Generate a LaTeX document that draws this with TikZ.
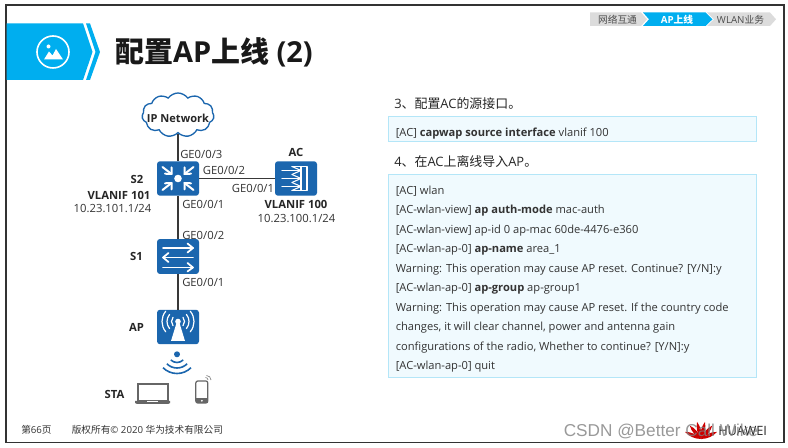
\documentclass[tikz,border=0pt]{standalone}
\usepackage{fontspec}
\setmainfont{Open Sans}
\newfontfamily\cjk{Noto Sans CJK SC}
\newfontfamily\wm{Liberation Sans}
\usetikzlibrary{shapes.symbols}
\definecolor{hwblue}{HTML}{00AEEF}
\definecolor{devblue}{HTML}{1B66AE}
\definecolor{boxfill}{HTML}{F0FAFE}
\definecolor{boxline}{HTML}{B4E6F8}
\definecolor{txt}{HTML}{333333}
\definecolor{tabgray}{HTML}{DCDCDC}
\tikzset{
 x=0.75pt,y=-0.75pt,
 dev/.style={fill=devblue,rounded corners=2.2pt,inner sep=0pt,minimum width=31.5pt,minimum height=25.8pt},
 glyph/.style={draw=white,line width=1.1pt,line cap=round,line join=round},
 link/.style={draw=black!78,line width=1pt},
 port/.style={font=\fontsize{8.45pt}{11pt}\selectfont,text=txt,inner sep=0pt,anchor=west},
 lab/.style={font=\fontsize{8.45pt}{11pt}\selectfont\bfseries,text=black!85,inner sep=0pt},
 addr/.style={font=\fontsize{8.45pt}{11pt}\selectfont,text=txt,inner sep=0pt},
 cfgbox/.style={draw=boxline,fill=boxfill,line width=0.7pt},
 cfg/.style={font=\fontsize{8.36pt}{10pt}\selectfont,text=txt,inner sep=0pt,anchor=west},
 head/.style={font=\fontsize{9.7pt}{11pt}\selectfont,text=black!85,inner sep=0pt,anchor=west},
 tab/.style={font=\fontsize{7.3pt}{8pt}\selectfont,inner sep=0pt},
 foot/.style={font=\fontsize{7.25pt}{9pt}\selectfont,text=txt,inner sep=0pt,anchor=west},
}
\begin{document}
\begin{tikzpicture}
\useasboundingbox (0,0) rectangle (788,448);
\fill[white] (0,0) rectangle (788,448);
\draw[black!80,line width=1.2pt] (6,5) rectangle (784,442.5);
% banner
\fill[hwblue] (6.6,23.5) -- (83,23.5) -- (92.5,52) -- (83,80) -- (6.6,80) -- cycle;
\fill[hwblue] (86,23.5) -- (90,23.5) -- (100,52) -- (90,80) -- (86,80) -- (95.5,52) -- cycle;
\draw[white,line width=1.2pt] (53,52) circle (16);
\fill[white] (44,59.5) -- (49,51.5) -- (52.5,55.5) -- (56,49) -- (63,59.5) -- cycle;
\fill[white] (48.5,46.5) circle (2);
\node[inner sep=0pt,anchor=west,font=\fontsize{21.7pt}{24pt}\selectfont\bfseries,text=black!90] (title) at (115,52.5) {{\cjk 配置}AP{\cjk 上线} (2)};
% tabs
\fill[tabgray] (590,12.5) -- (641,12.5) -- (647,19.3) -- (641,26) -- (590,26) -- cycle;
\fill[tabgray] (707,12.5) -- (770,12.5) -- (776,19.3) -- (770,26) -- (707,26) -- (714,19.3) -- cycle;
\fill[hwblue] (643,12.5) -- (705.5,12.5) -- (712.5,19.3) -- (705.5,26) -- (643,26) -- (649,19.3) -- cycle;
\node[tab,text=black!70] (t1) at (617.5,19.5) {\cjk 网络互通};
\node[tab,text=white,font=\fontsize{7.3pt}{8pt}\selectfont\bfseries] (t2) at (677,19.5) {AP{\cjk 上线}};
\node[tab,text=black!70] (t3) at (740.5,19.5) {WLAN{\cjk 业务}};
% cloud
\node[cloud,cloud puffs=11,cloud puff arc=110,aspect=1.7,draw=devblue,fill=white,line width=1pt,minimum width=54pt,minimum height=33pt,inner sep=0pt] (net) at (178,115) {};
\node[lab,font=\fontsize{8.3pt}{11pt}\selectfont\bfseries] (netl) at (178,118) {IP Network};
% devices
\node[dev] (S2) at (178,178.5) {};
\node[dev] (AC) at (296,178.5) {};
\node[dev,minimum height=26.2pt] (S1) at (178,256.5) {};
\node[dev] (AP) at (178,327) {};
\draw[link] (net.south) -- (S2.north);
\draw[link] (S2.east) -- (AC.west);
\draw[link] (S2.south) -- (S1.north);
\draw[link] (S1.south) -- (AP.north);
% S2 glyph
\fill[white] (S2.center) circle (3.8);
\foreach \sx in {-1,1}{\foreach \sy in {-1,1}{
 \begin{scope}[shift={(S2.center)},xscale=\sx,yscale=\sy]
  \draw[glyph,line width=1.5pt] (15.5,11.5) -- (6.5,4.5);
  \draw[glyph,line width=1.5pt] (13,4.8) -- (6.5,4.5) -- (6.5,11);
 \end{scope}}}
% AC glyph
\begin{scope}[shift={(AC.center)}]
 \draw[glyph,line width=0.8pt] (-4,-12) -- (11,-12) -- (11,12) -- (-4,12);
 \draw[glyph,line width=0.8pt] (5,-12) -- (5,12);
 \foreach \yy in {-8,0,8}{
  \draw[glyph,line width=0.8pt] (-14,\yy) -- (5,\yy);
  \draw[glyph,line width=0.8pt] (-4,\yy-4) -- (5,\yy) -- (-4,\yy+4);
 }
\end{scope}
% S1 glyph
\begin{scope}[shift={(S1.center)}]
 \draw[glyph,line width=1.3pt] (-15,-8.5) -- (15,-8.5);
 \draw[glyph,line width=1.3pt] (9.5,-13) -- (15,-8.5) -- (9.5,-4);
 \draw[glyph,line width=1.3pt] (15,1) -- (-15,1);
 \draw[glyph,line width=1.3pt] (-9.5,-3.5) -- (-15,1) -- (-9.5,5.5);
 \draw[glyph,line width=1.3pt] (-15,11) -- (15,11);
 \draw[glyph,line width=1.3pt] (9.5,6.5) -- (15,11) -- (9.5,15);
\end{scope}
% AP glyph
\begin{scope}[shift={(AP.center)}]
 \fill[white] (0,-5.5) circle (2.8);
 \fill[white] (-1.5,-4) -- (1.5,-4) -- (7,14) -- (-7,14) -- cycle;
 \foreach \r in {6.5,11,16}{
  \draw[glyph,line width=0.9pt] (0,-5.5) ++(40:\r) arc (40:-40:\r);
  \draw[glyph,line width=0.9pt] (0,-5.5) ++(140:\r) arc (140:220:\r);
 }
\end{scope}
% wifi
\fill[devblue] (177,354.3) circle (3);
\foreach \r in {8.8,14.3,19.8}{
 \draw[devblue,line width=1.2pt] (177,353.7) ++(45:\r) arc (45:135:\r);
}
% laptop
\draw[black!60,line width=0.9pt,fill=white] (138,384) rectangle (168,401);
\fill[black!60] (135,400.8) -- (170,400.8) -- (170,403) -- (168,404) -- (137,404) -- (135,403) -- cycle;
\fill[white] (147,400.8) rectangle (158,402.2);
% phone
\draw[black!60,line width=0.9pt,rounded corners=1.5pt,fill=white] (195.8,381) rectangle (207.8,403);
\fill[black!60] (195.8,398.5) rectangle (207.8,403);
\fill[white] (201.8,400.8) circle (1);
\draw[black!50,line width=0.5pt] (208,380) arc (0:-90:2.5);
\draw[black!50,line width=0.5pt] (211,380) arc (0:-90:4.5);
% labels
\node[port] (p1) at (180,154) {GE0/0/3};
\node[port] (p2) at (202.7,170) {GE0/0/2};
\node[port] (p3) at (231.7,188.4) {GE0/0/1};
\node[port] (p4) at (182,204) {GE0/0/1};
\node[port] (p5) at (182,235) {GE0/0/2};
\node[port] (p6) at (182,282.4) {GE0/0/1};
\node[lab] (l1) at (296,152.3) {AC};
\node[lab] (l2) at (137,179) {S2};
\node[lab] (l3) at (119,195) {VLANIF 101};
\node[addr] (l4) at (112.5,208.5) {10.23.101.1/24};
\node[lab] (l5) at (296,204.8) {VLANIF 100};
\node[addr] (l6) at (296.5,218) {10.23.100.1/24};
\node[lab] (l7) at (136.5,256) {S1};
\node[lab] (l8) at (136.5,327) {AP};
\node[lab] (l9) at (114.5,394) {STA};
% config
\path[cfgbox] (388.5,116.5) rectangle (756.5,141.5);
\path[cfgbox] (388.5,174.5) rectangle (756.5,377);
\node[head] (h3) at (394,104) {3{\cjk 、配置}AC{\cjk 的源接口。}};
\node[head] (h4) at (394,162) {4{\cjk 、在}AC{\cjk 上离线导入}AP{\cjk 。}};
\node[cfg] (c0) at (395.5,134) {[AC] \textbf{capwap source interface} vlanif 100};
\node[cfg] (c1) at (395.5,191.5) {[AC] wlan};
\node[cfg] (c2) at (395.5,211) {[AC-wlan-view] \textbf{ap auth-mode} mac-auth};
\node[cfg] (c3) at (395.5,230.5) {[AC-wlan-view] ap-id 0 ap-mac 60de-4476-e360};
\node[cfg] (c4) at (395.5,250) {[AC-wlan-ap-0] \textbf{ap-name} area\_1};
\node[cfg] (c5) at (395.5,269.5) {Warning: This operation may cause AP reset. Continue? [Y/N]:y};
\node[cfg] (c6) at (395.5,289) {[AC-wlan-ap-0] \textbf{ap-group} ap-group1};
\node[cfg] (c7) at (395.5,308.5) {Warning: This operation may cause AP reset. If the country code};
\node[cfg] (c8) at (395.5,328) {changes, it will clear channel, power and antenna gain};
\node[cfg] (c9) at (395.5,347.5) {configurations of the radio, Whether to continue? [Y/N]:y};
\node[cfg] (c10) at (395.5,367) {[AC-wlan-ap-0] quit};
% footer
\node[foot] (f1) at (21,430) {{\cjk 第}66{\cjk 页}};
\node[foot] (f2) at (71.5,430) {{\cjk 版权所有}© 2020 {\cjk 华为技术有限公司}};
% logo and watermark
\foreach \a in {-66,-40,-13,13,40,66}{
 \fill[red!80!black,rotate around={\a:(701,439)}] (701,439) .. controls (698.5,433) and (698.5,427) .. (701,421.5) .. controls (703.5,427) and (703.5,433) .. (701,439) -- cycle;
}
\node[inner sep=0pt,anchor=west,font=\fontsize{9.6pt}{11pt}\selectfont,text=black!85] (hw) at (718,431) {HUAWEI};
\node[inner sep=0pt,anchor=west,font=\fontsize{12.9pt}{15pt}\wm\selectfont,text=black!50,opacity=.8] (wm) at (563.5,431) {CSDN @Better Call Wike};
\end{tikzpicture}
\end{document}
